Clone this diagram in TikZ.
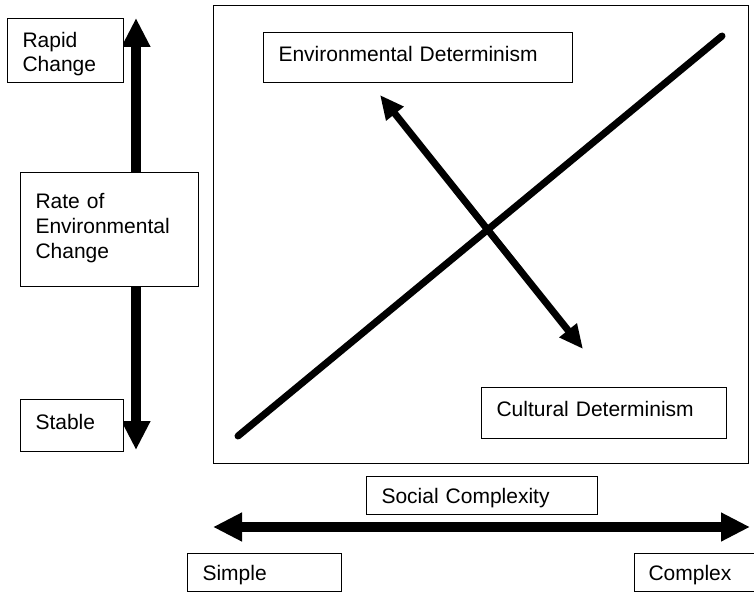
\documentclass[tikz,border=0pt]{standalone}
\usepackage{fontspec}
\setmainfont{Liberation Sans}
\usetikzlibrary{arrows.meta,positioning}

\begin{document}
\begin{tikzpicture}[x=1pt,y=-1pt,
        every node/.style={font=\fontsize{21}{25}\selectfont},
        box/.style={draw,line width=1pt,fill=white,anchor=north west,inner xsep=15pt,inner ysep=0pt,
          align=left,text height=15.5pt,text depth=8pt},
        bigarrow/.style={line width=10pt,{Triangle[length=29pt,width=27pt]}-{Triangle[length=29pt,width=27pt]}},
        thinarrow/.style={line width=7pt,{Triangle[length=24pt,width=21pt]}-{Triangle[length=24pt,width=21pt]}}]
      \useasboundingbox (0,0) rectangle (754,591);
      % frame and diagonals
      \draw[line width=1pt] (213,6) rectangle (748,463);
      \coordinate (dlo) at (238,436); \coordinate (dhi) at (722,36);
      \coordinate (ea) at (380,95);   \coordinate (ca) at (583,349);
      \draw[line width=7pt,line cap=round] (dlo)--(dhi);
      \draw[thinarrow] (ea)--(ca);
      % axes
      \coordinate (vtop) at (136,18); \coordinate (vbot) at (136,450);
      \coordinate (hl) at (213,527);  \coordinate (hr) at (750,527);
      \draw[bigarrow] (vtop)--(vbot);
      \draw[bigarrow] (hl)--(hr);
      % labels
      \node[box,minimum width=116pt,minimum height=64pt,text width=86pt,text height=18pt,text depth=24pt,
        font=\fontsize{21}{24}\selectfont] (rapid) at (7,18) {Rapid\\Change};
      \node[box,minimum width=178pt,minimum height=114pt,text width=148pt,text depth=58pt] (rate) at (20,172) {Rate of\\Environmental\\Change};
      \node[box,minimum width=103pt,minimum height=52pt,text width=73pt] (stable) at (20,399) {Stable};
      \node[box,minimum width=309pt,minimum height=50pt,text width=279pt] (envdet) at (263,32) {Environmental Determinism};
      \node[box,minimum width=245pt,minimum height=51pt,text width=215pt] (culdet) at (481,387) {Cultural Determinism};
      \node[box,minimum width=231pt,minimum height=38pt,text width=201pt,text depth=0pt] (social) at (366,476) {Social Complexity};
      \node[box,minimum width=154pt,minimum height=38pt,text width=124pt,text depth=0pt] (simple) at (187,553) {Simple};
      \node[box,minimum width=140pt,minimum height=38pt,inner xsep=14pt,text width=112pt,text depth=0pt] (complex) at (634,553) {Complex};
    \end{tikzpicture}
\end{document}
